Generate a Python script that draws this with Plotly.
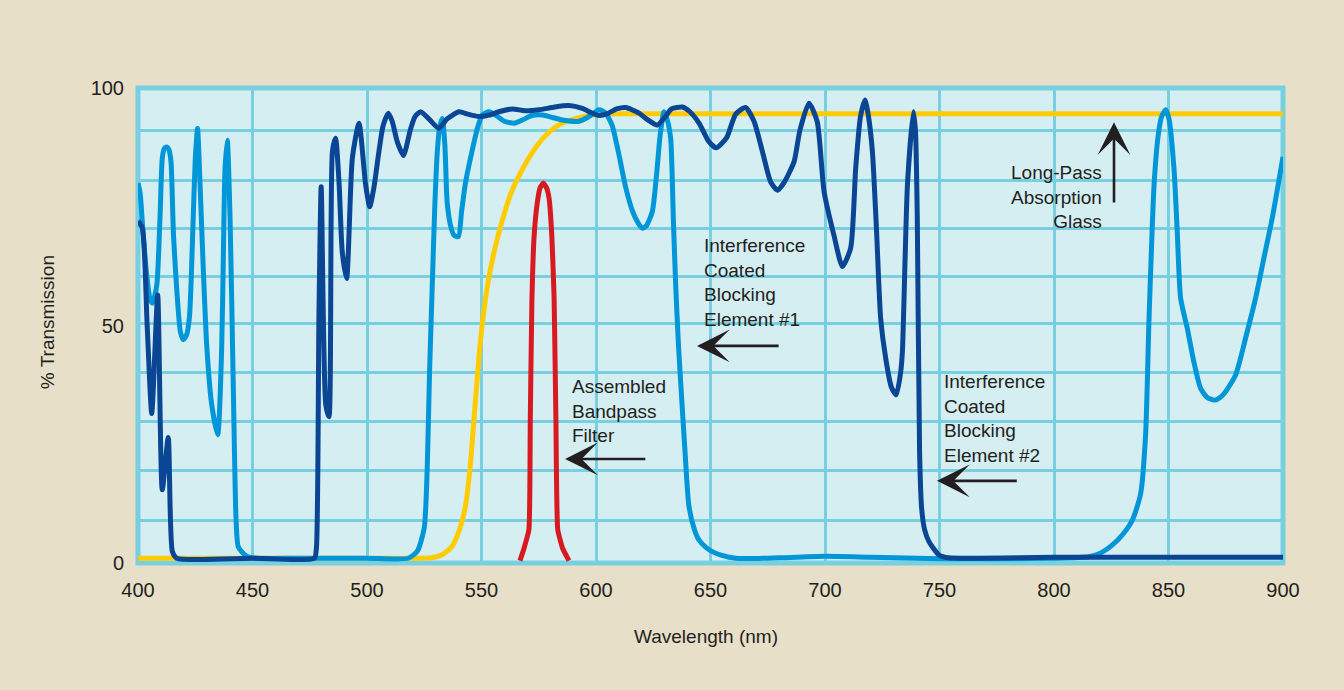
import plotly.graph_objects as go

# ---------------- data ----------------
x_ticks = [400, 450, 500, 550, 600, 650, 700, 750, 800, 850, 900]
y_ticks = [0, 50, 100]
# horizontal grid lines as drawn in the reference (slightly irregular)
y_grid = [9.05, 19.4, 29.7, 40.1, 50.5, 60.4, 70.5, 80.5, 91.0]

# Long-pass absorption glass (yellow)
wl_glass = [400, 520, 528, 533, 537, 540, 543, 545, 547, 549, 551, 553, 556, 559,
            563, 568, 573, 578, 584, 590, 596, 602, 610, 900]
t_glass = [1, 1, 1.1, 1.8, 3.4, 6.5, 12, 20, 32, 44, 53, 59.5, 66.5, 72,
           78, 83, 87, 90, 92.3, 93.4, 94.1, 94.5, 94.6, 94.6]

# Assembled bandpass filter (red)
wl_band = [566.8, 568.5, 570.7, 571.3, 572.0, 573.0, 574.4, 575.6, 577, 578.4, 579.5,
           580.7, 581.7, 582.5, 583.3, 585.5, 588.2]
t_band = [0.5, 3, 7, 30, 55, 69, 76, 79, 80, 79, 76.8,
          69, 56, 30, 7, 3, 0.5]

# Interference coated blocking element #1 (light blue)
wl_el1 = [400, 400.9, 402.3, 403.8, 405.2, 406.3, 408.2, 409.6, 410.6, 411.5, 412.5, 413.5,
          414.4, 415.5, 417, 418.5, 419.8, 421.2, 422.5, 424, 425, 426, 427.1, 428.5, 430,
          432.2, 434.8, 436.5, 437.3, 438, 439, 440.2, 441.6, 442.8, 443.8, 446.7, 449.6,
          470, 500, 518, 522, 525, 526.3, 527.3, 528.5, 529.6, 530.7, 531.8, 532.9, 534,
          535, 536.5, 538, 539.9, 541.3, 543, 546, 548.5, 550.4, 553.3, 557, 560, 564.2,
          568, 572, 576.6, 581, 586, 592.6, 597, 601.3, 604, 607, 610, 613, 616, 618.5,
          620.2, 622, 624.6, 626.5, 628, 629.7, 631, 632.6, 633.8, 634.8, 636, 637, 638.8,
          640.6, 643, 645, 648, 650.8, 655, 661, 680, 700, 720, 750, 780, 800, 815, 820,
          825.5, 830, 834.2, 837.8, 840, 841.5, 843.7, 845.5, 847, 848.8, 850.2, 852.4,
          853.8, 855.3, 858.2, 861, 864, 867, 870.6, 874, 879.3, 884, 888, 892, 895.3, 900]
t_el1 = [80, 78, 69, 60.6, 55.7, 54.7, 58.5, 72.6, 85.2, 87.3, 87.6, 87,
         84.5, 69, 57, 48.7, 47, 48, 52, 71, 85, 91.5, 79.6, 62, 45.9,
         33.3, 27, 44.5, 65.5, 83, 89, 72.6, 37.5, 9.5, 3.4, 1.7, 1.1,
         1, 1, 1, 2.5, 7.4, 20, 40, 58.5, 75, 86.6, 92, 93.6, 88,
         76, 71, 69, 68.7, 74, 80, 87, 92, 94.3, 95, 94, 93, 92.6,
         93.3, 94.2, 94.3, 93.8, 93.2, 93, 94, 95.4, 94.8, 92.2, 86, 79, 74, 71.5,
         70.5, 71, 74, 82, 90, 95, 93.5, 89.4, 72, 58.5, 46, 37.9, 24,
         11.9, 7, 4.8, 3.3, 2.4, 1.6, 1, 1.1, 1.4, 1.2, 0.9, 0.9, 1, 1.3, 2,
         3.8, 6, 9, 14.5, 27, 51.5, 79.6, 90, 94, 95.4, 93.5, 83,
         70, 55.7, 49.4, 42.5, 36.8, 34.8, 34.3, 35.5, 39.6, 48, 55.7, 65, 72.6, 85.5]

# Interference coated blocking element #2 (dark blue)
wl_el2 = [400, 401.9, 404, 406, 408.6, 410.6, 413.2, 415, 416.9, 450, 477, 477.9, 479, 480,
          482, 483.4, 484.9, 486.3, 487.8, 489.2, 491.1, 493.6, 496.5, 499.4, 501.2, 503,
          505.2, 507, 509.3, 511, 513.2, 515.9, 519.1, 521, 523.4, 527, 531.4, 535, 540.2,
          544, 548.9, 553.3, 557.6, 563.4, 569, 575, 582, 588.2, 594, 598, 601.3, 605, 609,
          613, 618.8, 622, 626.8, 630, 633, 637.7, 641, 645, 649.3, 652.5, 657, 661, 665.3,
          669, 673, 676.2, 679.2, 682, 686.5, 689, 693, 696.6, 699.6, 703.9, 707.6, 711.2,
          713.4, 715.5, 717.5, 719, 720.7, 722.5, 724.3, 726.5, 729, 731.1, 733, 733.8, 736,
          738.6, 739.5, 740.3, 741.3, 742.2, 743.5, 745.4, 749.8, 754, 800, 900]
t_el2 = [72, 70.5, 50, 31.5, 56.4, 15.4, 26.4, 2.4, 1, 1, 1, 3.1, 51.6, 79.2,
         33.3, 30.8, 86.6, 89.4, 80, 65.5, 59.9, 85.2, 92.6, 79.6, 75, 79,
         86.6, 92, 94.7, 93, 88.7, 85.8, 91.5, 94, 95, 93.5, 91.5, 93.5, 95,
         94.5, 94, 94.3, 95, 95.6, 95.2, 95.4, 96, 96.3, 95.7, 94.8, 94.2, 94.6, 95.6,
         95.9, 94.7, 93.5, 92.2, 93.8, 95.6, 96, 95, 92.6, 88.7, 87.4, 89.5, 94.5, 95.9,
         93, 86, 80.3, 78.5, 80, 84.5, 91, 96.8, 92.9, 78.2, 69, 62.4, 66.3,
         83.1, 94, 97.5, 94, 86.6, 70, 51.5, 43.1, 37, 35.4, 40, 44.5, 79.6,
         95, 91, 72.6, 23.4, 11.5, 7, 4.5, 1.7, 1.1, 1.2, 1.2]

# ---------------- styling ----------------
BG = "#e8dfc8"
PLOT_BG = "#d5eef2"
GRID = "#78cfe0"
TXT = "#231f20"
FONT = "Liberation Sans"

fig = go.Figure()

def add_line(x, y, color, smooth=0.6):
    fig.add_trace(go.Scatter(x=x, y=y, mode="lines",
                             line=dict(color=color, width=5, shape="spline", smoothing=smooth),
                             hoverinfo="skip"))

add_line(wl_glass, t_glass, "#ffcb05")
add_line(wl_el1, t_el1, "#0096d7")
add_line(wl_el2, t_el2, "#0a4694")
add_line(wl_band, t_band, "#d71920", smooth=0.4)

fig.update_layout(
    width=1344, height=690,
    margin=dict(l=138, r=61, t=88, b=127),
    paper_bgcolor=BG, plot_bgcolor=PLOT_BG,
    showlegend=False,
    font=dict(family=FONT, color=TXT),
)

fig.update_xaxes(range=[400, 900], tickvals=x_ticks, ticktext=[str(v) for v in x_ticks],
                 ticks="", showgrid=True, gridcolor=GRID, gridwidth=3, zeroline=False,
                 showline=False, tickfont=dict(size=20, color=TXT, family=FONT),
                 ticklabelstandoff=13)
fig.update_yaxes(range=[0, 100], tickvals=y_ticks, ticktext=[str(v) for v in y_ticks],
                 ticks="", showgrid=False, zeroline=False,
                 showline=False, tickfont=dict(size=20, color=TXT, family=FONT),
                 ticklabelstandoff=13,
                 minor=dict(tickmode="array", tickvals=y_grid, showgrid=True,
                            gridcolor=GRID, gridwidth=3, ticks=""))

# plot-area border
fig.add_shape(type="rect", xref="paper", yref="paper", x0=0, x1=1, y0=0, y1=1,
              line=dict(color=GRID, width=5), layer="between")

ann_font = dict(family=FONT, size=19, color=TXT)

# axis titles
fig.add_annotation(text="Wavelength (nm)", xref="paper", yref="paper", x=0.4965, y=-0.154,
                   showarrow=False, font=ann_font, xanchor="center", yanchor="middle")
fig.add_annotation(text="% Transmission", xref="paper", yref="paper", x=-0.0795, y=0.507,
                   showarrow=False, font=ann_font, textangle=-90, xanchor="center", yanchor="middle")

# labels
fig.add_annotation(text="Interference<br>Coated<br>Blocking<br>Element #1", x=646.5, y=59.0,
                   showarrow=False, font=ann_font, xanchor="left", yanchor="middle", align="left")
fig.add_annotation(text="Assembled<br>Bandpass<br>Filter", x=588.8, y=32.0,
                   showarrow=False, font=ann_font, xanchor="left", yanchor="middle", align="left")
fig.add_annotation(text="Interference<br>Coated<br>Blocking<br>Element #2", x=751.3, y=30.5,
                   showarrow=False, font=ann_font, xanchor="left", yanchor="middle", align="left")
fig.add_annotation(text="Long-Pass<br>Absorption<br>Glass", x=822.0, y=77.0,
                   showarrow=False, font=ann_font, xanchor="right", yanchor="middle", align="right")

# arrows (tip at x,y ; tail at ax,ay)
arrow_style = dict(showarrow=True, arrowhead=3, arrowsize=2.1, arrowwidth=2.6,
                   arrowcolor=TXT, axref="x", ayref="y", text="")
fig.add_annotation(x=644.1, y=45.7, ax=680.4, ay=45.7, **arrow_style)
fig.add_annotation(x=586.5, y=21.9, ax=622.2, ay=21.9, **arrow_style)
fig.add_annotation(x=748.9, y=17.3, ax=784.4, ay=17.3, **arrow_style)
fig.add_annotation(x=826.2, y=92.8, ax=826.2, ay=75.6, **arrow_style)

fig.write_html("out.html")
